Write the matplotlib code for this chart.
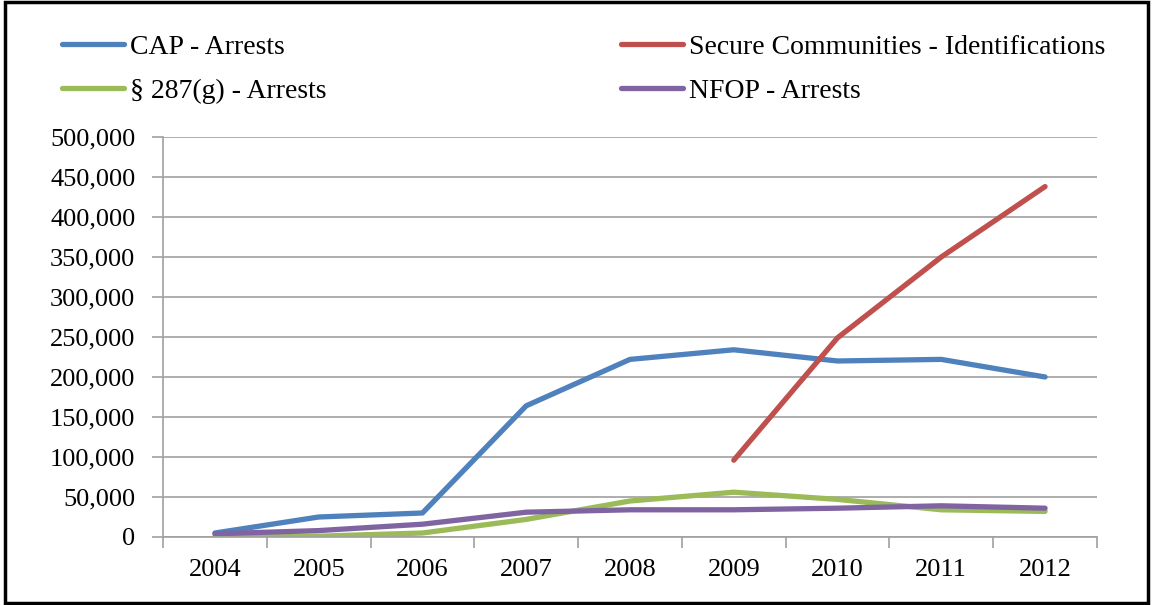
import matplotlib.pyplot as plt
from matplotlib.ticker import FuncFormatter
from matplotlib.patches import Rectangle

years = ['2004', '2005', '2006', '2007', '2008', '2009', '2010', '2011', '2012']
cap = [5000, 25000, 30000, 164000, 222000, 234000, 220000, 222000, 200000]
secure_years = ['2009', '2010', '2011', '2012']
secure = [96000, 249000, 350000, 438000]
g287 = [500, 1000, 5000, 22000, 45000, 56000, 47000, 34000, 32000]
nfop = [4000, 8000, 16000, 31000, 34000, 34000, 36000, 39000, 36000]

plt.rcParams['font.family'] = ['Liberation Serif', 'DejaVu Serif']

fig = plt.figure(figsize=(11.53, 6.05), dpi=100)
ax = fig.add_axes([0.1414, 0.1124, 0.81, 0.6612])

x = list(range(len(years)))
xs = [years.index(y) for y in secure_years]
lw = 3.8
l1, = ax.plot(x, cap, color='#4F81BD', lw=lw, label='CAP - Arrests', solid_capstyle='round')
l2, = ax.plot(xs, secure, color='#C0504D', lw=lw, label='Secure Communities - Identifications', solid_capstyle='round')
l3, = ax.plot(x, g287, color='#9BBB59', lw=lw, label='§ 287(g) - Arrests', solid_capstyle='round')
l4, = ax.plot(x, nfop, color='#8064A2', lw=lw, label='NFOP - Arrests', solid_capstyle='round')

ax.set_xlim(-0.5, len(years) - 0.5)
ax.set_ylim(0, 500000)
ax.set_yticks(range(0, 500001, 50000))
ax.yaxis.set_major_formatter(FuncFormatter(lambda v, p: f'{int(v):,}'))
ax.set_xticks(x)
ax.set_xticklabels(years)
ax.set_xticks([i - 0.5 for i in range(len(years) + 1)], minor=True)
ax.tick_params(axis='x', which='major', length=0, labelsize=19, pad=16)
ax.tick_params(axis='x', which='minor', length=8, color='#A0A0A0', width=1.2)
ax.tick_params(axis='y', length=8, color='#A0A0A0', width=1.2, labelsize=19, pad=12)
ax.grid(axis='y', color='#A0A0A0', lw=1.2)
ax.set_axisbelow(True)
for s in ['top', 'right']:
    ax.spines[s].set_visible(False)
for s in ['left', 'bottom']:
    ax.spines[s].set_color('#A0A0A0')
    ax.spines[s].set_linewidth(1.2)

fig.legend(handles=[l1, l3, l2, l4], ncol=2, loc='upper left',
           bbox_to_anchor=(0.032, 0.984), frameon=False, fontsize=20,
           handlelength=2.25, handletextpad=0.2, columnspacing=10.6,
           labelspacing=0.65)

fig.patches.append(Rectangle((0.004, 0.004), 0.992, 0.992, transform=fig.transFigure,
                             fill=False, edgecolor='black', lw=2.5))

fig.savefig('out.png', dpi=100)
